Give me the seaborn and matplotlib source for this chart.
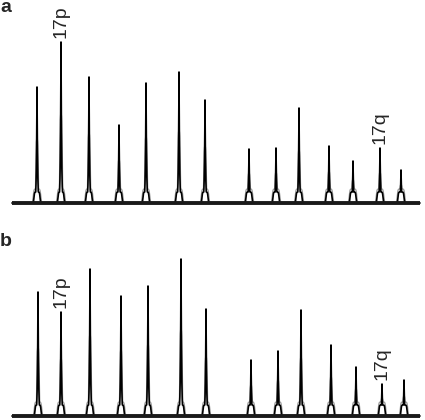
# imports
import numpy as np
import pandas as pd
import matplotlib
matplotlib.use('Agg')
import matplotlib.pyplot as plt
import seaborn as sns

# ====================================================================================================

# peak positions (along the trace) and peak heights
peak_pos_a = [37, 61, 89, 119, 146, 179, 205, 249, 276, 299, 329, 353, 380, 401]
peak_height_a = [116, 161, 126, 78, 120, 131, 103, 54, 55, 95, 57, 42, 55, 33]

peak_pos_b = [38, 61, 90, 121, 148, 181, 206, 251, 278, 301, 331, 356, 382, 404]
peak_height_b = [124, 104, 147, 120, 130, 157, 107, 56, 65, 106, 71, 49, 32, 36]

# labelled peaks (index into the lists above)
labels_a = {1: '17p', 12: '17q'}
labels_b = {1: '17p', 12: '17q'}

FONT = ['Liberation Sans', 'DejaVu Sans']

# ====================================================================================================

def make_trace(positions, heights, x):
    # sharp black spike plus a wider grey outline with small feet at the base
    black = np.zeros_like(x)
    grey = np.zeros_like(x)
    for c, h in zip(positions, heights):
        d = np.abs(x - c)
        spike = h * np.exp(-d / 0.55)
        foot = 11 * np.exp(-(d / 3.2) ** 8)
        black = np.maximum(black, np.maximum(spike, foot))
        grey = np.maximum(grey, np.maximum(0.55 * h * np.exp(-(d / 1.4) ** 4), 14 * np.exp(-(d / 4.0) ** 8)))
    return pd.DataFrame({'x': x, 'black': black, 'grey': grey})

# ====================================================================================================

def draw_panel(ax, positions, heights, labels):
    x = np.arange(12, 420, 0.05)
    df = make_trace(positions, heights, x)

    sns.lineplot(data=df, x='x', y='grey', ax=ax, color='#9a9a9a', linewidth=0.9)
    sns.lineplot(data=df, x='x', y='black', ax=ax, color='black', linewidth=1.2)
    ax.plot([12, 420], [0, 0], color='#1a1a1a', linewidth=2.8, solid_capstyle='butt')

    for i, txt in labels.items():
        ax.annotate(txt, (positions[i], heights[i]), xytext=(0, 3), textcoords='offset points',
                    rotation=90, ha='center', va='bottom', fontsize=14, family=FONT)

    ax.set_xlim(0, 425)
    ax.set_ylim(-2, 183)
    ax.set_axis_off()

# ====================================================================================================

def main():
    sns.set_style('white')
    fig = plt.figure(figsize=(4.25, 4.2), dpi=100)

    # pixel rows: panel a baseline ~203, panel b baseline ~416
    ax_a = fig.add_axes([0, 1 - 205 / 420, 1, 185 / 420])
    ax_b = fig.add_axes([0, 1 - 418 / 420, 1, 185 / 420])

    draw_panel(ax_a, peak_pos_a, peak_height_a, labels_a)
    draw_panel(ax_b, peak_pos_b, peak_height_b, labels_b)

    fig.text(0.0, 1 - 12 / 420, 'a', fontsize=14, fontweight='bold', family=FONT, ha='left', va='baseline')
    fig.text(0.0, 1 - 246 / 420, 'b', fontsize=14, fontweight='bold', family=FONT, ha='left', va='baseline')

    plt.savefig('out.png', dpi=100)

# ====================================================================================================

if __name__ == '__main__':
    main()
